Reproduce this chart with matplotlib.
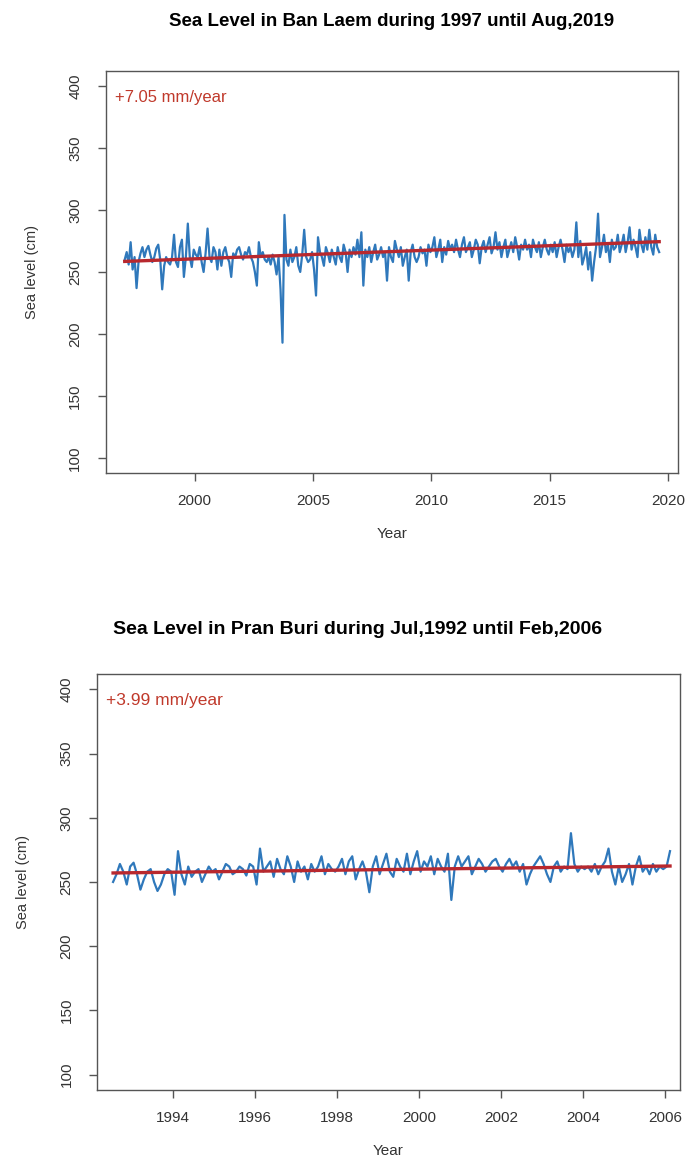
#!/usr/bin/env python3
# -*- coding: utf-8 -*-

import numpy as np
import matplotlib
matplotlib.use("Agg")
import matplotlib.pyplot as plt

plt.rcParams['font.family'] = ['Liberation Sans', 'DejaVu Sans']

# Ban Laem monthly sea level (cm), Jan 1997 .. Aug 2019
ban_laem = [
    [260, 266, 256, 274, 252, 262, 237, 258, 265, 270, 262, 268],  # 1997
    [271, 264, 258, 262, 269, 272, 260, 236, 255, 262, 258, 256],  # 1998
    [262, 280, 258, 254, 270, 276, 246, 262, 289, 262, 254, 268],  # 1999
    [264, 262, 270, 258, 250, 265, 285, 262, 258, 270, 266, 252],  # 2000
    [268, 255, 266, 270, 262, 258, 246, 265, 262, 268, 270, 264],  # 2001
    [260, 266, 264, 270, 262, 258, 250, 239, 274, 262, 266, 260],  # 2002
    [258, 262, 256, 264, 258, 248, 262, 236, 193, 296, 260, 255],  # 2003
    [268, 258, 262, 270, 255, 250, 264, 284, 262, 258, 260, 266],  # 2004
    [252, 231, 278, 266, 262, 255, 270, 265, 258, 268, 262, 256],  # 2005
    [270, 262, 258, 272, 266, 250, 268, 262, 270, 264, 276, 262],  # 2006
    [282, 239, 268, 262, 270, 258, 266, 272, 260, 264, 270, 262],  # 2007
    [266, 243, 270, 262, 258, 275, 268, 262, 270, 255, 262, 268],  # 2008
    [243, 266, 272, 262, 258, 262, 270, 265, 268, 255, 272, 266],  # 2009
    [270, 278, 262, 268, 276, 258, 270, 264, 275, 268, 272, 266],  # 2010
    [276, 268, 262, 272, 278, 266, 270, 274, 262, 268, 276, 272],  # 2011
    [257, 270, 275, 266, 272, 278, 265, 270, 282, 268, 274, 262],  # 2012
    [270, 276, 262, 268, 274, 266, 278, 270, 260, 272, 268, 276],  # 2013
    [268, 272, 262, 276, 270, 266, 274, 262, 270, 276, 268, 264],  # 2014
    [272, 266, 274, 262, 270, 276, 268, 258, 272, 266, 270, 262],  # 2015
    [268, 290, 262, 275, 256, 262, 270, 252, 266, 243, 258, 270],  # 2016
    [297, 262, 270, 280, 266, 272, 258, 276, 268, 270, 280, 266],  # 2017
    [272, 280, 266, 274, 286, 268, 276, 270, 262, 284, 272, 266],  # 2018
    [278, 268, 284, 270, 264, 280, 270, 266],                      # 2019
]
ban_laem_start = (1997, 1)
ban_laem_trend0 = 258.5     # cm at first month
ban_laem_rate = 7.05        # mm/year
ban_laem_xticks = [2000, 2005, 2010, 2015, 2020]

# Pran Buri monthly sea level (cm), Jul 1992 .. Feb 2006
pran_buri = [
    [250, 256, 264, 258, 248, 262],                                # 1992
    [265, 256, 244, 252, 258, 260, 250, 243, 248, 256, 260, 258],  # 1993
    [240, 274, 256, 248, 262, 254, 258, 260, 250, 256, 262, 258],  # 1994
    [260, 252, 258, 264, 262, 256, 258, 262, 260, 255, 264, 262],  # 1995
    [248, 276, 258, 262, 266, 254, 268, 260, 256, 270, 262, 250],  # 1996
    [266, 258, 262, 252, 264, 258, 262, 270, 256, 264, 260, 258],  # 1997
    [262, 268, 256, 266, 270, 252, 260, 266, 258, 242, 262, 270],  # 1998
    [256, 264, 272, 258, 254, 268, 262, 258, 272, 256, 266, 274],  # 1999
    [258, 266, 262, 270, 256, 268, 262, 258, 272, 236, 262, 270],  # 2000
    [262, 266, 270, 256, 262, 268, 264, 258, 262, 266, 268, 262],  # 2001
    [258, 264, 268, 262, 266, 258, 264, 248, 256, 262, 266, 270],  # 2002
    [264, 256, 250, 262, 266, 258, 262, 260, 288, 264, 258, 262],  # 2003
    [260, 262, 258, 264, 256, 262, 266, 276, 258, 248, 262, 250],  # 2004
    [256, 264, 248, 262, 270, 258, 262, 256, 264, 258, 262, 260],  # 2005
    [262, 274],                                                    # 2006
]
pran_buri_start = (1992, 7)
pran_buri_trend0 = 257.0
pran_buri_rate = 3.99
pran_buri_xticks = [1994, 1996, 1998, 2000, 2002, 2004, 2006]

y_ticks = [100, 150, 200, 250, 300, 350, 400]

LINE_BLUE = '#2f78bb'
TREND_RED = '#b8282e'
TEXT_RED = '#c0392b'
SPINE = '#555555'


def decimal_years(start, n):
    """Month index -> decimal year (mid-month)"""
    year, month = start
    return year + (month - 0.5) / 12.0 + np.arange(n) / 12.0


def r_style_axes(ax, xticks, xlim):
    ax.set_xlim(*xlim)
    ax.set_ylim(88, 412)
    ax.set_xticks(xticks)
    ax.set_yticks(y_ticks)
    for s in ax.spines.values():
        s.set_color(SPINE)
        s.set_linewidth(1.0)
    ax.tick_params(direction='out', length=6, width=1.0, color=SPINE,
                   labelsize=11, labelcolor='#333333')
    ax.tick_params(axis='x', pad=9)
    ax.tick_params(axis='y', pad=11)
    for lab in ax.get_yticklabels():
        lab.set_rotation(90)
        lab.set_va('center')
    ax.set_xlabel('Year', fontsize=11, color='#333333', labelpad=14)
    ax.set_ylabel('Sea level (cm)', fontsize=10.5, color='#333333', labelpad=21)


def draw_panel(ax, rows, start, trend0, rate, xticks, xlim, txt_size):
    values = np.array([v for row in rows for v in row], dtype=float)
    t = decimal_years(start, len(values))
    ax.plot(t, values, color=LINE_BLUE, linewidth=1.6, zorder=2)
    trend_t = np.array([t[0], t[-1]])
    trend_v = trend0 + rate / 10.0 * (trend_t - t[0])
    ax.plot(trend_t, trend_v, color=TREND_RED, linewidth=2.4, zorder=3)
    r_style_axes(ax, xticks, xlim)
    ax.text(0.016, 0.935, f"+{rate:.2f} mm/year", transform=ax.transAxes,
            color=TEXT_RED, fontsize=txt_size, va='center', ha='left')


fig = plt.figure(figsize=(6.9, 11.67), dpi=100)

ax1 = fig.add_axes([0.1536, 0.5947, 0.829, 0.3445])
draw_panel(ax1, ban_laem, ban_laem_start, ban_laem_trend0, ban_laem_rate,
           ban_laem_xticks, (1996.25, 2020.42), 12)
fig.text(392 / 690, 1 - 22 / 1167, 'Sea Level in Ban Laem during 1997 until Aug,2019',
         ha='center', va='center', fontsize=13.5, fontweight='bold')

ax2 = fig.add_axes([0.1406, 0.066, 0.845, 0.3565])
draw_panel(ax2, pran_buri, pran_buri_start, pran_buri_trend0, pran_buri_rate,
           pran_buri_xticks, (1992.15, 2006.37), 12.5)
fig.text(358 / 690, 1 - 630 / 1167, 'Sea Level in Pran Buri during Jul,1992 until Feb,2006',
         ha='center', va='center', fontsize=14, fontweight='bold')

fig.savefig('out.png', dpi=100)
